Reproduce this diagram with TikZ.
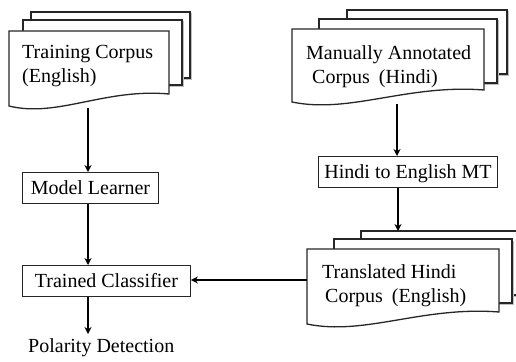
\documentclass[tikz,border=0pt]{standalone}
\usepackage{fontspec}
\setmainfont{Liberation Serif}
\usetikzlibrary{arrows.meta}

\tikzset{
  sheet/.style={draw=black!85, line width=1.3pt, fill=white},
  shade/.style={fill=black!25, draw=none},
  box/.style={draw=black!85, line width=0.9pt, fill=white, inner xsep=6pt,
    minimum height=31pt, text depth=0pt, anchor=north west, align=left},
  lbl/.style={font=\fontsize{20}{24}\selectfont, align=left, anchor=north west, inner sep=0pt},
  flow/.style={-{Stealth[length=7pt,width=7pt]}, line width=1.8pt, black},
}

% a plain sheet lying behind the front page: left, top, right, bottom
\newcommand{\backsheet}[4]{%
  \fill[shade] ({#1+1.5},{#2+1.5}) rectangle ({#3+1.5},{#4+1.5});
  \draw[sheet] (#1,#2) rectangle (#3,#4);
}
% front page with a wavy lower edge: left, top, right, bottom at the left side
\newcommand{\frontsheet}[4]{%
  \draw[sheet] (#1,#2) -- (#3,#2) -- (#3,{#4-12})
    .. controls ({#3-0.4*(#3-#1)},{#4-18}) and ({#1+0.3*(#3-#1)},{#4+12}) .. (#1,#4) -- cycle;
}

\begin{document}
\begin{tikzpicture}[x=1pt,y=-1pt]
  \useasboundingbox (0,0) rectangle (516,361);

  % left column: training corpus
  \backsheet{31}{12}{190}{78}
  \backsheet{23}{20}{182}{85}
  \frontsheet{9}{31}{169}{106}
  \node[lbl] (traintxt) at (22,45) {Training Corpus\\(English)};
  \coordinate (trainout) at (88,108);

  % right column: annotated Hindi corpus
  \backsheet{347}{10}{507}{74}
  \backsheet{319}{19}{497}{83}
  \frontsheet{292}{29}{484}{102}
  \node[lbl] (annotxt) at (306,45) {Manually Annotated\\\hspace*{6pt}Corpus\hspace{4pt} (Hindi)};
  \coordinate (annoout) at (397,104);

  % translated corpus
  \backsheet{361}{231}{530}{295}
  \backsheet{334}{239}{512}{303}
  \frontsheet{307}{249}{499}{324}
  \coordinate (transback) at (398,231);
  \node[lbl] (transtxt) at (322,264) {Translated Hindi\\\hspace*{3pt}Corpus\hspace{4pt} (English)};
  \coordinate (transin) at (307,280);

  % process boxes
  \node[box, minimum width=136pt] (learner) at (22,172) {\fontsize{20}{24}\selectfont Model Learner};
  \node[box, minimum width=168pt] (classifier) at (22,265) {\fontsize{20}{24}\selectfont Trained Classifier};
  \node[box, minimum width=176pt] (mt) at (318,156) {\fontsize{20}{24}\selectfont Hindi to English MT};

  % output label
  \node[lbl] (polarity) at (28,338) {Polarity Detection};
  \coordinate (polin) at (88,334);

  % connectors
  \draw[flow] (trainout) -- (trainout |- learner.north);
  \draw[flow] (trainout |- learner.south) -- (trainout |- classifier.north);
  \draw[flow] (trainout |- classifier.south) -- (polin);
  \draw[flow] (annoout) -- (annoout |- mt.north);
  \draw[flow] (transback |- mt.south) -- (transback);
  \draw[flow] (transin) -- (classifier.east |- transin);
\end{tikzpicture}
\end{document}
